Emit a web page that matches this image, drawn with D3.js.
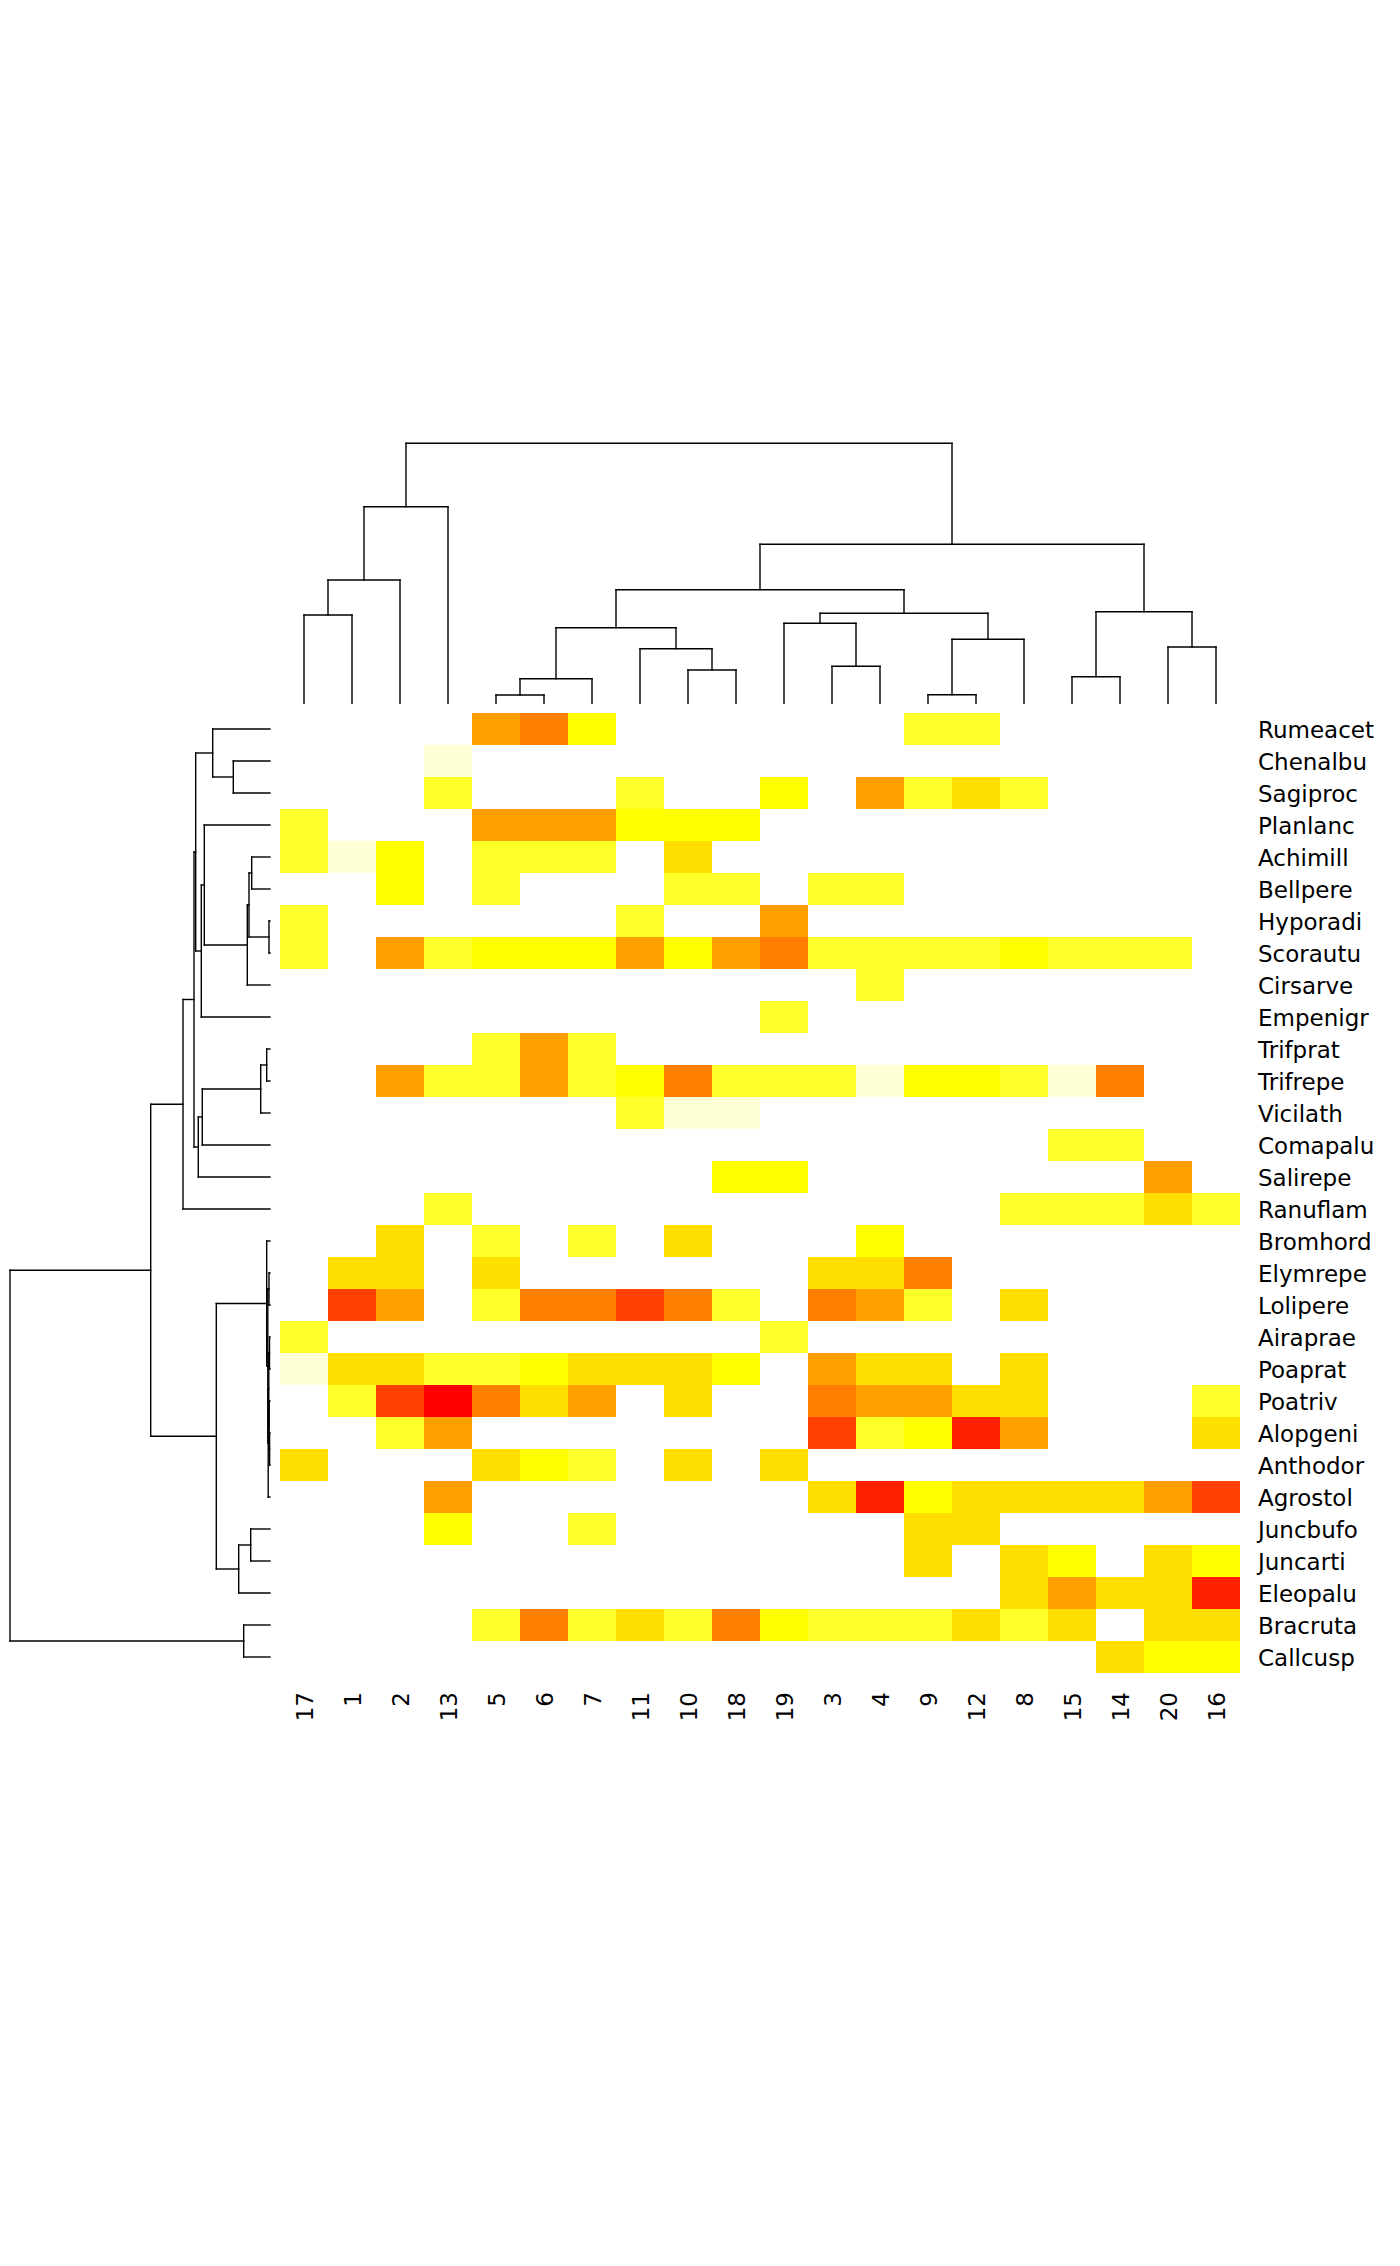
<!DOCTYPE html>
<html>
<head>
<meta charset="utf-8">
<script src="https://cdn.jsdelivr.net/npm/d3@7"></script>
<style>
  body { margin: 0; background: white; }
</style>
</head>
<body>
<div id="container"></div>
<script>
// sites (columns) in dendrogram order
let colLabels = ["17","1","2","13","5","6","7","11","10","18","19","3","4","9","12","8","15","14","20","16"];

// species (rows) in dendrogram order, top to bottom
let rowLabels = ["Rumeacet","Chenalbu","Sagiproc","Planlanc","Achimill","Bellpere","Hyporadi","Scorautu",
  "Cirsarve","Empenigr","Trifprat","Trifrepe","Vicilath","Comapalu","Salirepe","Ranuflam","Bromhord",
  "Elymrepe","Lolipere","Airaprae","Poaprat","Poatriv","Alopgeni","Anthodor","Agrostol","Juncbufo",
  "Juncarti","Eleopalu","Bracruta","Callcusp"];

// cover class per row, columns in colLabels order
let values = [
  [0,0,0,0,5,6,3,0,0,0,0,0,0,2,2,0,0,0,0,0],
  [0,0,0,1,0,0,0,0,0,0,0,0,0,0,0,0,0,0,0,0],
  [0,0,0,2,0,0,0,2,0,0,3,0,5,2,4,2,0,0,0,0],
  [2,0,0,0,5,5,5,3,3,3,0,0,0,0,0,0,0,0,0,0],
  [2,1,3,0,2,2,2,0,4,0,0,0,0,0,0,0,0,0,0,0],
  [0,0,3,0,2,0,0,0,2,2,0,2,2,0,0,0,0,0,0,0],
  [2,0,0,0,0,0,0,2,0,0,5,0,0,0,0,0,0,0,0,0],
  [2,0,5,2,3,3,3,5,3,5,6,2,2,2,2,3,2,2,2,0],
  [0,0,0,0,0,0,0,0,0,0,0,0,2,0,0,0,0,0,0,0],
  [0,0,0,0,0,0,0,0,0,0,2,0,0,0,0,0,0,0,0,0],
  [0,0,0,0,2,5,2,0,0,0,0,0,0,0,0,0,0,0,0,0],
  [0,0,5,2,2,5,2,3,6,2,2,2,1,3,3,2,1,6,0,0],
  [0,0,0,0,0,0,0,2,1,1,0,0,0,0,0,0,0,0,0,0],
  [0,0,0,0,0,0,0,0,0,0,0,0,0,0,0,0,2,2,0,0],
  [0,0,0,0,0,0,0,0,0,3,3,0,0,0,0,0,0,0,5,0],
  [0,0,0,2,0,0,0,0,0,0,0,0,0,0,0,2,2,2,4,2],
  [0,0,4,0,2,0,2,0,4,0,0,0,3,0,0,0,0,0,0,0],
  [0,4,4,0,4,0,0,0,0,0,0,4,4,6,0,0,0,0,0,0],
  [0,7,5,0,2,6,6,7,6,2,0,6,5,2,0,4,0,0,0,0],
  [2,0,0,0,0,0,0,0,0,0,2,0,0,0,0,0,0,0,0,0],
  [1,4,4,2,2,3,4,4,4,3,0,5,4,4,0,4,0,0,0,0],
  [0,2,7,9,6,4,5,0,4,0,0,6,5,5,4,4,0,0,0,2],
  [0,0,2,5,0,0,0,0,0,0,0,7,2,3,8,5,0,0,0,4],
  [4,0,0,0,4,3,2,0,4,0,4,0,0,0,0,0,0,0,0,0],
  [0,0,0,5,0,0,0,0,0,0,0,4,8,3,4,4,4,4,5,7],
  [0,0,0,3,0,0,2,0,0,0,0,0,0,4,4,0,0,0,0,0],
  [0,0,0,0,0,0,0,0,0,0,0,0,0,4,0,4,3,0,4,3],
  [0,0,0,0,0,0,0,0,0,0,0,0,0,0,0,4,5,4,4,8],
  [0,0,0,0,2,6,2,4,2,6,3,2,2,2,4,2,4,0,4,4],
  [0,0,0,0,0,0,0,0,0,0,0,0,0,0,0,0,0,4,3,3]
];

// cover class 0..9
let levels = [0,1,2,3,4,5,6,7,8,9];
let levelColors = ["#FFFFFF","#FFFFD5","#FFFF2A","#FFFF00","#FFDF00","#FF9F00","#FF8000","#FF4000","#FF2000","#FF0000"];

// hclust-style merges: negative = leaf (1-based), positive = earlier merge
let rowMerge = [
  [-2,-3,3.67],[-1,1,5.73],[-5,-6,1.83],[-7,-8,0.10],[3,4,2.10],[5,-9,2.27],[-4,6,6.57],[7,-10,6.87],
  [2,8,7.43],[-11,-12,0.33],[10,-13,0.93],[11,-14,6.77],[12,-15,7.17],[9,13,7.60],[14,-16,8.70],
  [-20,-21,0.05],[-23,-24,0.04],[-22,17,0.08],[16,18,0.12],[19,-25,0.18],[-18,-19,0.10],[21,20,0.22],
  [-17,22,0.33],[-26,-27,1.93],[24,-28,3.13],[23,25,5.37],[15,26,11.93],[-29,-30,2.63],[27,28,26.0]
];

let colMerge = [
  [-1,-2,8.83],[1,-3,12.33],[2,-4,19.66],[-5,-6,0.83],[4,-7,2.46],[-9,-10,3.33],[-8,6,5.46],[5,7,7.56],
  [-12,-13,3.70],[-11,9,8.00],[-14,-15,0.86],[11,-16,6.40],[10,12,9.00],[8,13,11.36],[-17,-18,2.66],
  [-19,-20,5.63],[15,16,9.16],[14,17,15.90],[3,18,26.0]
];

let w = 1400;
let h = 2266;

let viz = d3.select("#container")
  .append("svg")
    .attr("width",w)
    .attr("height",h)
    .style("background-color","white")
;

let xBand = d3.scaleBand().domain(colLabels).range([280,1240]);
let yBand = d3.scaleBand().domain(rowLabels).range([713,1673]);
let colorScale = d3.scaleOrdinal().domain(levels).range(levelColors);

// heat map cells
let cells = [];
values.forEach(function(row,i){
  row.forEach(function(v,j){
    if(v > 0){
      cells.push({row: rowLabels[i], col: colLabels[j], v: v});
    }
  });
});

viz.append("g").selectAll("rect").data(cells).enter()
  .append("rect")
    .attr("x",function(d){ return xBand(d.col); })
    .attr("y",function(d){ return yBand(d.row); })
    .attr("width",xBand.bandwidth())
    .attr("height",yBand.bandwidth())
    .attr("fill",function(d){ return colorScale(d.v); })
    .attr("shape-rendering","crispEdges")
;

// builds segments of a rectangular dendrogram
// pos(leafIndex) -> position along leaves, hs(height) -> position along height axis
function dendroSegments(merge, leafPos, hs){
  let nodes = [];
  function info(ref){
    if(ref < 0){
      return {p: leafPos(-ref-1), h: 0};
    }
    return nodes[ref-1];
  }
  let segs = [];
  merge.forEach(function(m){
    let a = info(m[0]);
    let b = info(m[1]);
    let hh = m[2];
    segs.push({p1: a.p, h1: hs(a.h), p2: a.p, h2: hs(hh)});
    segs.push({p1: a.p, h1: hs(hh), p2: b.p, h2: hs(hh)});
    segs.push({p1: b.p, h1: hs(hh), p2: b.p, h2: hs(b.h)});
    nodes.push({p: (a.p + b.p) / 2, h: hh});
  });
  return segs;
}

// column dendrogram (top)
let colHeight = d3.scaleLinear().domain([0,26]).range([703.3,443.3]);
let colSegs = dendroSegments(colMerge, function(i){ return xBand(colLabels[i]) + xBand.bandwidth()/2; }, colHeight);

viz.append("g").selectAll("line").data(colSegs).enter()
  .append("line")
    .attr("x1",function(d){ return d.p1; })
    .attr("y1",function(d){ return d.h1; })
    .attr("x2",function(d){ return d.p2; })
    .attr("y2",function(d){ return d.h2; })
    .attr("stroke","black")
    .attr("stroke-width",1.4)
    .attr("stroke-linecap","square")
;

// row dendrogram (left)
let rowHeight = d3.scaleLinear().domain([0,26]).range([270,10]);
let rowSegs = dendroSegments(rowMerge, function(i){ return yBand(rowLabels[i]) + yBand.bandwidth()/2; }, rowHeight);

viz.append("g").selectAll("line").data(rowSegs).enter()
  .append("line")
    .attr("x1",function(d){ return d.h1; })
    .attr("y1",function(d){ return d.p1; })
    .attr("x2",function(d){ return d.h2; })
    .attr("y2",function(d){ return d.p2; })
    .attr("stroke","black")
    .attr("stroke-width",1.4)
    .attr("stroke-linecap","square")
;

// labels
viz.append("g").selectAll("text").data(rowLabels).enter()
  .append("text")
    .text(function(d){ return d; })
    .attr("x",1258)
    .attr("y",function(d){ return yBand(d) + yBand.bandwidth()/2 + 8.5; })
    .attr("fill","black")
    .style("font-family","DejaVu Sans")
    .style("font-size","23px")
;

viz.append("g").selectAll("text").data(colLabels).enter()
  .append("text")
    .text(function(d){ return d; })
    .attr("text-anchor","end")
    .attr("transform",function(d){
      return "translate(" + (xBand(d) + xBand.bandwidth()/2 + 8.5) + ",1692) rotate(-90)";
    })
    .attr("fill","black")
    .style("font-family","DejaVu Sans")
    .style("font-size","23px")
;
</script>
</body>
</html>
